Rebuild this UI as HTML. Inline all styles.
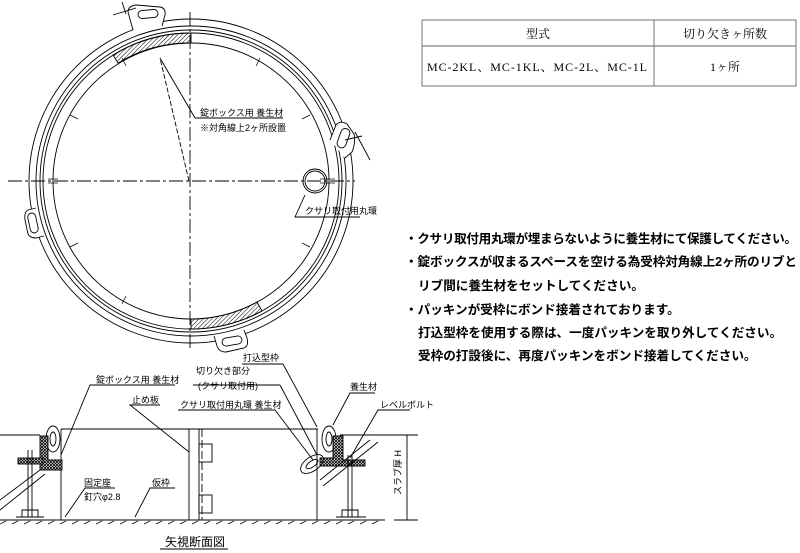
<!DOCTYPE html>
<html><head><meta charset="utf-8"><style>
body{margin:0;background:#fff;width:800px;height:553px;overflow:hidden}
svg{position:absolute;left:0;top:0}
.t{font-family:"Liberation Sans","Noto Sans CJK JP",sans-serif}
</style></head><body>
<svg width="800" height="553" viewBox="0 0 800 553" xmlns="http://www.w3.org/2000/svg">
<defs>
<pattern id="h" width="3" height="3" patternUnits="userSpaceOnUse" patternTransform="rotate(45)"><line x1="0" y1="0" x2="0" y2="3" stroke="#000" stroke-width="1"/></pattern>
<pattern id="x" width="3" height="3" patternUnits="userSpaceOnUse"><rect width="3" height="3" fill="#fff"/><path d="M0 0L3 3M3 0L0 3" stroke="#000" stroke-width="0.8"/></pattern>
</defs>
<g fill="none" stroke="#000" stroke-width="0.9">
<circle cx="191" cy="181" r="162"/>
<circle cx="191" cy="181" r="155"/>
<circle cx="191" cy="181" r="151"/>
<circle cx="191" cy="181" r="148"/>
<circle cx="191" cy="181" r="138"/>
<path d="M191 33 A148 148 0 0 0 113 55 L118 63 A138 138 0 0 1 191 43Z" fill="url(#h)"/>
<path d="M191 329 A148 148 0 0 0 262 311 L257 302 A138 138 0 0 1 191 319Z" fill="url(#h)"/>
<path d="M133 30 L128 12 Q128 6 136 5 L160 7 Q166 8 165 15 L162 26" fill="#fff"/>
<rect x="138" y="10" width="20" height="8" rx="4" transform="rotate(-5 148 14)"/>
<path d="M330 140 L336 125 Q340 120 347 124 L354 134 Q356 142 352 152 L345 158" fill="#fff"/>
<rect x="339" y="128" width="9" height="20" rx="4.5" transform="rotate(20 343 138)"/>
<path d="M36 208 L28 210 Q24 212 25 220 L28 234 Q30 238 36 238 L44 236" fill="#fff"/>
<rect x="29" y="213" width="8" height="20" rx="4" transform="rotate(-12 33 223)"/>
<path d="M214 336 L217 346 Q219 352 226 352 L244 348 Q249 346 247 338 L244 330" fill="#fff"/>
<rect x="222" y="337" width="20" height="8" rx="4" transform="rotate(-10 232 341)"/>
<line x1="190" y1="12" x2="190" y2="350" stroke-dasharray="14 3 3 3"/>
<line x1="8" y1="181" x2="355" y2="181" stroke-dasharray="14 3 3 3"/>
<circle cx="315" cy="181" r="10"/><circle cx="315" cy="181" r="12"/>
<line x1="189" y1="181" x2="160" y2="58" stroke-dasharray="5 2"/>
<polyline points="160,58 195,118 283,118"/>
<polyline points="305,195 295,217 360,217"/>
<line x1="113" y1="15" x2="136" y2="8"/><line x1="122" y1="2" x2="126" y2="14"/>
<line x1="355" y1="132" x2="370" y2="160"/><line x1="345" y1="140" x2="362" y2="136"/>
<g stroke-width="0.7">
<line x1="122" y1="58" x2="126" y2="66"/><line x1="260" y1="58" x2="256" y2="66"/>
<line x1="70" y1="115" x2="78" y2="119"/><line x1="310" y1="115" x2="302" y2="119"/>
<line x1="70" y1="247" x2="78" y2="243"/><line x1="310" y1="247" x2="302" y2="243"/>
<line x1="122" y1="304" x2="126" y2="296"/>
<line x1="48" y1="179" x2="58" y2="179"/><line x1="48" y1="183" x2="58" y2="183"/>
<line x1="320" y1="179" x2="335" y2="179"/><line x1="320" y1="183" x2="335" y2="183"/>
</g>
<rect x="422" y="20" width="374" height="66" stroke="#666"/>
<line x1="422" y1="46" x2="796" y2="46" stroke="#666"/>
<line x1="654" y1="20" x2="654" y2="86" stroke="#666"/>
<line x1="0" y1="435" x2="40" y2="435"/>
<line x1="340" y1="435" x2="410" y2="435"/>
<line x1="61" y1="429" x2="318" y2="429"/>
<line x1="61" y1="429" x2="61" y2="520"/>
<line x1="317" y1="429" x2="317" y2="520"/>
<line x1="0" y1="520" x2="385" y2="520"/>
<path d="M0 524 l6 -3 M12 524 l6 -3 M24 524 l6 -3 M36 524 l6 -3 M48 524 l6 -3 M60 524 l6 -3 M72 524 l6 -3 M84 524 l6 -3 M96 524 l6 -3 M108 524 l6 -3 M120 524 l6 -3 M132 524 l6 -3 M144 524 l6 -3 M156 524 l6 -3 M168 524 l6 -3 M180 524 l6 -3 M192 524 l6 -3 M204 524 l6 -3 M216 524 l6 -3 M228 524 l6 -3 M240 524 l6 -3 M252 524 l6 -3 M264 524 l6 -3 M276 524 l6 -3 M288 524 l6 -3 M300 524 l6 -3 M312 524 l6 -3 M324 524 l6 -3 M336 524 l6 -3 M348 524 l6 -3 M360 524 l6 -3 M372 524 l6 -3" stroke-width="0.7"/>
<rect x="189" y="429" width="10" height="91"/>
<rect x="199" y="444" width="13" height="18"/><rect x="199" y="495" width="13" height="18"/>
<line x1="202" y1="429" x2="202" y2="520" stroke-dasharray="8 3"/>
<ellipse cx="53" cy="439" rx="7" ry="13"/><ellipse cx="53" cy="439" rx="3" ry="7"/>
<path d="M40 436 H48 V460 H62 V470 H40Z" fill="url(#x)"/>
<rect x="18" y="458" width="25" height="6" fill="url(#x)"/>
<line x1="28" y1="450" x2="28" y2="517"/><line x1="32" y1="450" x2="32" y2="517"/>
<path d="M16 517 H44 M22 517 V510 H38 V517"/>
<line x1="0" y1="500" x2="40" y2="470"/><line x1="0" y1="510" x2="45" y2="474"/>
<ellipse cx="329" cy="439" rx="7" ry="13"/><ellipse cx="329" cy="439" rx="3" ry="7"/>
<path d="M333 436 H343 V460 H365 V466 H320 V458 H333Z" fill="url(#x)"/>
<ellipse cx="312" cy="464" rx="13" ry="7" transform="rotate(-35 312 464)"/>
<ellipse cx="312" cy="464" rx="7" ry="3" transform="rotate(-35 312 464)"/>
<line x1="348" y1="455" x2="348" y2="517"/><line x1="352" y1="455" x2="352" y2="517"/>
<path d="M336 517 H366 M342 517 V510 H358 V517"/>
<line x1="320" y1="480" x2="370" y2="440"/><line x1="323" y1="486" x2="378" y2="442"/>
<line x1="394" y1="435" x2="418" y2="435"/><line x1="394" y1="520" x2="418" y2="520"/>
<line x1="407" y1="435" x2="407" y2="520"/>
<polyline points="175,385 90,385 61,455"/>
<polyline points="160,405 130,405 189,452"/>
<polyline points="275,410 178,410"/><line x1="275" y1="410" x2="313" y2="460"/>
<polyline points="280,385 193,385"/><line x1="280" y1="385" x2="317" y2="455"/>
<polyline points="283,364 242,364"/><line x1="283" y1="364" x2="317" y2="427"/>
<polyline points="375,393 350,393 333,425"/>
<polyline points="410,410 378,410 350,458"/>
<polyline points="115,488 85,488 65,517"/>
<polyline points="175,488 150,488 135,517"/>
<line x1="160" y1="549" x2="228" y2="549"/>
</g>
<g class="t" font-size="9" fill="#000">
<text x="200" y="116">錠ボックス用 養生材</text>
<text x="200" y="131">※対角線上2ヶ所設置</text>
<text x="305" y="214">クサリ取付用丸環</text>
<text x="96" y="383">錠ボックス用 養生材</text>
<text x="132" y="403">止め板</text>
<text x="196" y="374">切り欠き部分</text>
<text x="198" y="389">(クサリ取付用)</text>
<text x="180" y="408">クサリ取付用丸環 養生材</text>
<text x="243" y="361">打込型枠</text>
<text x="350" y="390">養生材</text>
<text x="380" y="408">レベルボルト</text>
<text x="84" y="486">固定座</text>
<text x="84" y="500">釘穴φ2.8</text>
<text x="152" y="486">仮枠</text>
<text x="0" y="0" transform="translate(401,495) rotate(-90)">スラブ厚 H</text>
<text x="165" y="546" font-size="12">矢視断面図</text>
</g>
<g font-family="'Liberation Serif','Noto Serif CJK SC',serif" font-size="12" fill="#000">
<text x="538" y="38" text-anchor="middle">型式</text>
<text x="725" y="38" text-anchor="middle">切り欠きヶ所数</text>
<text x="537" y="71" text-anchor="middle" textLength="220">MC-2KL、MC-1KL、MC-2L、MC-1L</text>
<text x="725" y="71" text-anchor="middle">1ヶ所</text>
</g>
<g class="t" font-size="12.6" font-weight="bold" fill="#000">
<text x="405" y="243" textLength="392">・クサリ取付用丸環が埋まらないように養生材にて保護してください。</text>
<text x="405" y="266" textLength="392">・錠ボックスが収まるスペースを空ける為受枠対角線上2ヶ所のリブと</text>
<text x="418" y="290">リブ間に養生材をセットしてください。</text>
<text x="405" y="314">・パッキンが受枠にボンド接着されております。</text>
<text x="418" y="337">打込型枠を使用する際は、一度パッキンを取り外してください。</text>
<text x="418" y="360">受枠の打設後に、再度パッキンをボンド接着してください。</text>
</g>
</svg>
</body></html>
